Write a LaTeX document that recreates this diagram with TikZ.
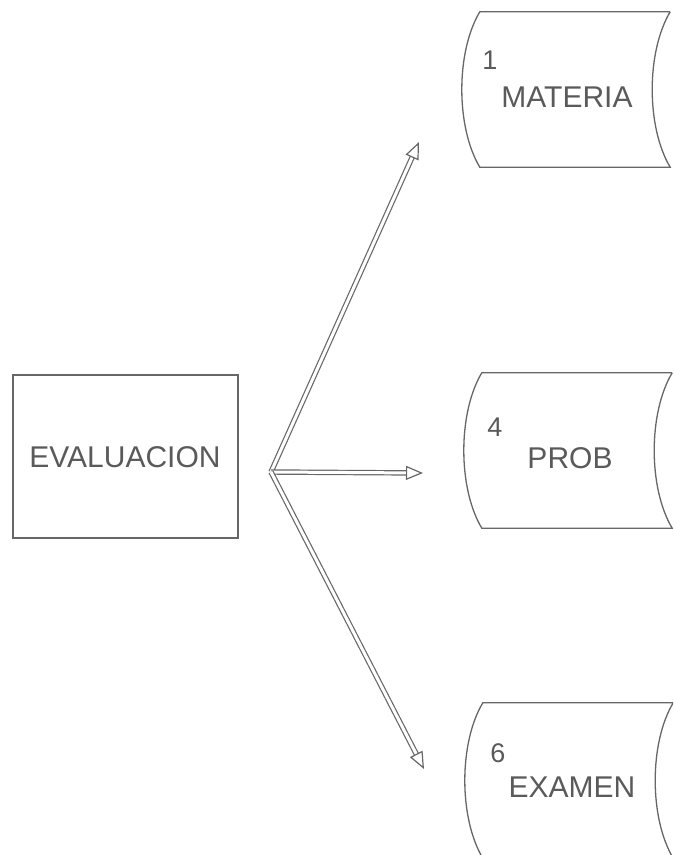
\documentclass[tikz,border=0pt]{standalone}
\usepackage{fontspec}
\setmainfont{Liberation Sans}
\usetikzlibrary{arrows.meta}
\definecolor{LineGray}{HTML}{676767}
\definecolor{FontGray}{HTML}{5A5A5A}
\newcommand\nodeev{EVALUACION}
\newcommand\nodemat{MATERIA}
\newcommand\nodeprob{PROB}
\newcommand\nodeexa{EXAMEN}
\tikzstyle{mytext} = [text=FontGray, inner sep=0pt, font=\fontsize{30}{34}\selectfont]
\tikzstyle{numtext} = [text=FontGray, inner sep=0pt, font=\fontsize{27}{30}\selectfont]
\tikzstyle{procbox} = [rectangle, draw=LineGray, line width=1.3pt, minimum width=225pt, minimum height=163pt]
\tikzstyle{storebox} = [rectangle, draw=none, minimum width=190pt, minimum height=155pt]
\tikzstyle{storeline} = [draw=LineGray, line width=1.3pt]
\tikzstyle{flow} = [draw=LineGray, line width=1.2pt, double=white, double distance=3pt,
  -{Triangle[open, length=17pt, width=14pt, line width=1.2pt]}]

\begin{document}
\begin{tikzpicture}[x=1pt, y=-1pt]
\useasboundingbox (0,0) rectangle (673,855);
\fill[white] (0,0) rectangle (673,855);
\clip (0,0) rectangle (673,855);
% process and data stores
\node[procbox] (ev) at (125.5, 456.5) {};
\node[mytext] (evt) at (125, 457) {\nodeev};
\node[storebox] (mat) at (575, 89.5) {};
\node[storebox] (prob) at (577, 450.5) {};
\node[storebox] (exa) at (578, 780.5) {};
\foreach \s in {mat, prob, exa}
  \draw[storeline] (\s.north east) -- (\s.north west)
    .. controls +(-24,40) and +(-24,-40) .. (\s.south west) -- (\s.south east)
    .. controls +(-24,-40) and +(-24,40) .. (\s.north east);
\node[numtext] (n1) at (490, 60) {1};
\node[mytext] (matt) at (567, 97) {\nodemat};
\node[numtext] (n4) at (495, 427) {4};
\node[mytext] (probt) at (570, 458) {\nodeprob};
\node[numtext] (n6) at (498, 753) {6};
\node[mytext] (exat) at (572, 787) {\nodeexa};
% flows
\coordinate (fork) at (271, 472);
\coordinate (tmat) at (419, 142);
\coordinate (tprob) at (423, 473);
\coordinate (texa) at (424, 769);
\draw[flow] (fork) -- (tmat);
\draw[flow] (fork) -- (tprob);
\draw[flow] (fork) -- (texa);
\end{tikzpicture}
\end{document}
